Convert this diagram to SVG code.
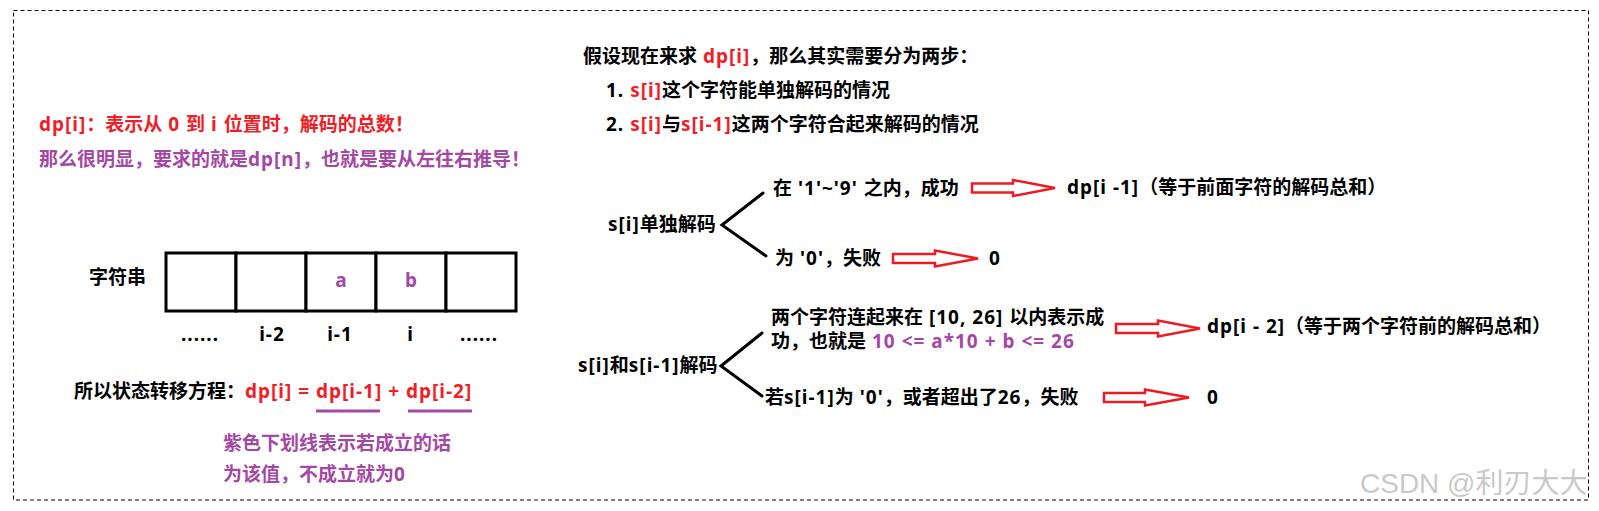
<svg xmlns="http://www.w3.org/2000/svg" width="1599" height="511" viewBox="0 0 1599 511">
<style>
text{font-family:'Noto Sans','Noto Sans CJK SC',sans-serif;font-weight:bold;font-size:19px;fill:#000}
.l{letter-spacing:1px}
.r{fill:#f01e28}
.p{fill:#a349a4}
.c{text-anchor:middle}
.cell{fill:#fff;stroke:#000;stroke-width:3}
.br{fill:none;stroke:#000;stroke-width:3;stroke-linecap:round;stroke-linejoin:miter}
.arr{fill:#fff;stroke:#ed1c24;stroke-width:2.5;stroke-linejoin:miter}
.ul{stroke:#a349a4;stroke-width:3}
.wm{font-family:'Liberation Sans','Noto Sans CJK SC',sans-serif;font-weight:normal;font-size:28px;fill:#c9c9c9}
</style>
<rect width="1599" height="511" fill="#fff"/>
<rect x="13.5" y="10.5" width="1575" height="489.5" fill="none" stroke="#000" stroke-width="1" stroke-dasharray="4 3"/>

<g id="definition">
<text x="39" y="131" class="r"><tspan class="l">dp[i]</tspan>：表示从<tspan class="l"> 0 </tspan>到<tspan class="l"> i </tspan>位置时，解码的总数！</text>
<text x="39" y="166" class="p">那么很明显，要求的就是<tspan class="l">dp[n]</tspan>，也就是要从左往右推导！</text>
</g>

<g id="string-array">
<text x="89" y="284">字符串</text>
<rect class="cell" x="166" y="253" width="70" height="58"/>
<rect class="cell" x="236" y="253" width="70" height="58"/>
<rect class="cell" x="306" y="253" width="70" height="58"/>
<rect class="cell" x="376" y="253" width="70" height="58"/>
<rect class="cell" x="446" y="253" width="70" height="58"/>
<text x="341" y="287" class="p c">a</text>
<text x="411" y="287" class="p c">b</text>
<text x="200" y="341" class="c l">......</text>
<text x="272" y="341" class="c l">i-2</text>
<text x="340" y="341" class="c l">i-1</text>
<text x="410" y="341" class="c">i</text>
<text x="479" y="341" class="c l">......</text>
</g>

<g id="formula">
<text x="74" y="398">所以状态转移方程：<tspan class="r l">dp[i] = dp[i-1] + dp[i-2]</tspan></text>
<line class="ul" x1="316" y1="411" x2="380" y2="411"/>
<line class="ul" x1="408" y1="411" x2="472" y2="411"/>
</g>

<g id="note">
<text x="223" y="450" class="p">紫色下划线表示若成立的话</text>
<text x="223" y="481" class="p">为该值，不成立就为<tspan class="l">0</tspan></text>
</g>

<g id="steps">
<text x="583" y="63">假设现在来求<tspan class="l"> </tspan><tspan class="r l">dp[i]</tspan>，那么其实需要分为两步：</text>
<text x="606" y="97"><tspan class="l">1. </tspan><tspan class="r l">s[i]</tspan>这个字符能单独解码的情况</text>
<text x="606" y="131"><tspan class="l">2. </tspan><tspan class="r l">s[i]</tspan>与<tspan class="r l">s[i-1]</tspan>这两个字符合起来解码的情况</text>
</g>

<g id="single-decode">
<text x="608" y="231"><tspan class="l">s[i]</tspan>单独解码</text>
</g>
<g id="single-success">
<text x="773" y="195">在<tspan class="l"> '1'~'9' </tspan>之内，成功</text>
</g>
<g id="single-fail">
<text x="775" y="265">为<tspan class="l"> '0'</tspan>，失败</text>
</g>
<g id="single-success-result">
<text x="1067" y="194"><tspan class="l">dp[i -1]</tspan>（等于前面字符的解码总和）</text>
</g>
<g id="single-fail-result">
<text x="989" y="265">0</text>
</g>

<g id="pair-decode">
<text x="578" y="372"><tspan class="l">s[i]</tspan>和<tspan class="l">s[i-1]</tspan>解码</text>
</g>
<g id="pair-success">
<text x="771" y="324">两个字符连起来在<tspan class="l"> [10, 26] </tspan>以内表示成</text>
<text x="771" y="348">功，也就是<tspan class="l"> </tspan><tspan class="p l">10 &lt;= a*10 + b &lt;= 26</tspan></text>
</g>
<g id="pair-fail">
<text x="765" y="404">若<tspan class="l">s[i-1]</tspan>为<tspan class="l"> '0'</tspan>，或者超出了<tspan class="l">26</tspan>，失败</text>
</g>
<g id="pair-success-result">
<text x="1207" y="333"><tspan class="l">dp[i - 2]</tspan>（等于两个字符前的解码总和）</text>
</g>
<g id="pair-fail-result">
<text x="1207" y="404">0</text>
</g>

<g id="connectors">
<polyline class="br" points="763,193 722,225 766,256"/>
<polyline class="br" points="762,333 721,366 762,396"/>
<polygon class="arr" points="972,183.5 1013,183.5 1013,180 1055,188 1013,196 1013,192.5 972,192.5"/>
<polygon class="arr" points="893,254 935,254 935,250.5 978,258.5 935,266.5 935,263 893,263"/>
<polygon class="arr" points="1116,324 1158,324 1158,320.5 1200,328.5 1158,336.5 1158,333 1116,333"/>
<polygon class="arr" points="1104,393 1145,393 1145,389.5 1189,397.5 1145,405.5 1145,402 1104,402"/>
</g>

<text x="1360" y="493" class="wm">CSDN @利刃大大</text>
</svg>
